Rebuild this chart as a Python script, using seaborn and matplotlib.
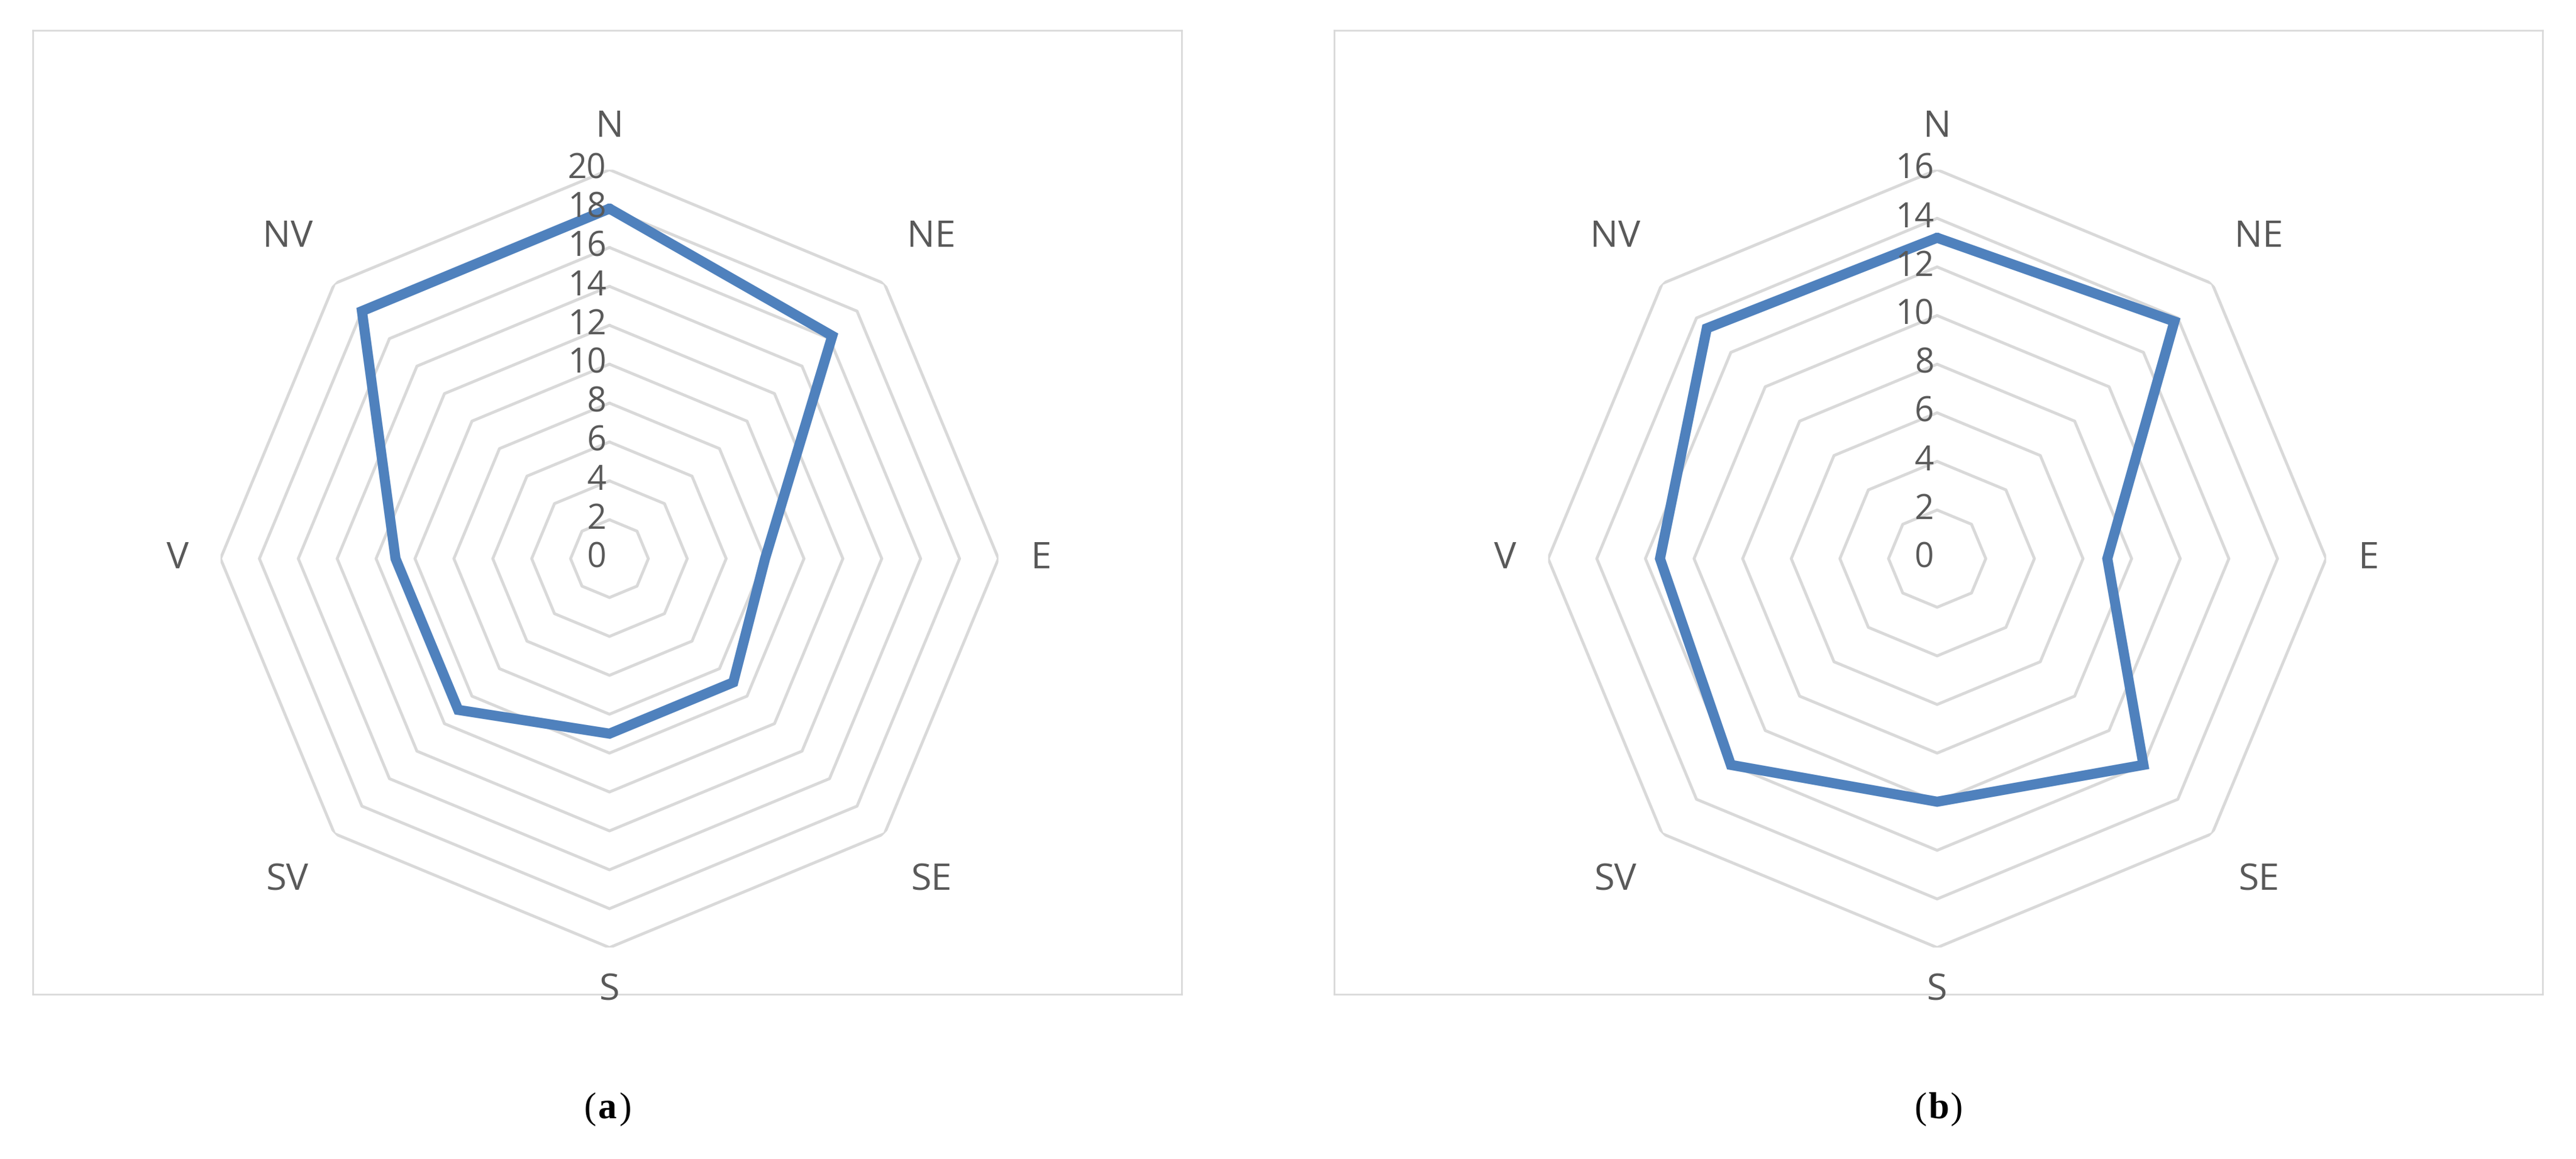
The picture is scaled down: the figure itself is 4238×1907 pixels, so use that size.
import numpy as np
import matplotlib
matplotlib.use("Agg")
import matplotlib.pyplot as plt
import matplotlib.transforms as mtrans
import seaborn as sns

sns.set_theme(style="white")
plt.rcParams['font.family'] = ['Open Sans', 'DejaVu Sans']

directions = ["N", "NE", "E", "SE", "S", "SV", "V", "NV"]
values_a = [18, 16.2, 8, 9, 9, 11, 11, 18]
values_b = [13.2, 13.8, 7, 12, 10, 12, 11.4, 13.4]
ticks_a = list(range(0, 21, 2))
ticks_b = list(range(0, 17, 2))
panel_labels = ["a", "b"]

W, H = 4238, 1907
fig = plt.figure(figsize=(W/100, H/100), dpi=100)
gray = "#595959"
gridc = "#d9d9d9"
linec = "#4f81bd"

def panel(cx, box, vals, ticks, lab):
    fr = fig.add_axes(box)
    fr.set_xticks([]); fr.set_yticks([])
    for s in fr.spines.values():
        s.set_color(gridc); s.set_linewidth(2)
    fr.patch.set_alpha(0)
    w = 0.302; h = 0.672
    ax = fig.add_axes([cx - w/2, 0.518 - h/2, w, h], projection="polar")
    ax.set_theta_zero_location("N")
    ax.set_theta_direction(-1)
    ax.set_ylim(0, ticks[-1])
    ax.grid(False)
    ax.spines["polar"].set_visible(False)
    ax.set_xticks([]); ax.set_yticks([])
    ax.patch.set_alpha(0)
    n = len(directions)
    th = np.linspace(0, 2*np.pi, n, endpoint=False)
    thc = np.append(th, th[0])
    for t in ticks[1:]:
        ax.plot(thc, [t]*(n+1), color=gridc, lw=3.5, zorder=1)
    ax.plot(thc, list(vals)+[vals[0]], color=linec, lw=12, zorder=3, solid_joinstyle="miter")
    off = mtrans.offset_copy(ax.transData, fig=fig, x=-4, y=0, units="points")
    for t in ticks:
        ax.text(0, t, str(t), transform=off, ha="right", va="center", fontsize=40, color=gray, zorder=4)
    for i, (a, d) in enumerate(zip(th, directions)):
        rr = ticks[-1] * (1.11 if i % 2 == 0 else 1.17)
        ax.text(a, rr, d, ha="center", va="center", fontsize=44, color=gray)
    xc = box[0] + box[2]/2
    fig.text(xc, 0.043, lab, ha="center", va="center", fontsize=44, family="Liberation Serif", weight="bold", color="black")
    fig.text(xc - 0.0045, 0.043, "(", ha="right", va="center", fontsize=44, family="Liberation Serif", color="black")
    fig.text(xc + 0.0045, 0.043, ")", ha="left", va="center", fontsize=44, family="Liberation Serif", color="black")

panel(0.2366, [0.0128, 0.142, 0.446, 0.832], values_a, ticks_a, panel_labels[0])
panel(0.752, [0.518, 0.142, 0.469, 0.832], values_b, ticks_b, panel_labels[1])

fig.savefig("out.png", dpi=100, facecolor="white")
